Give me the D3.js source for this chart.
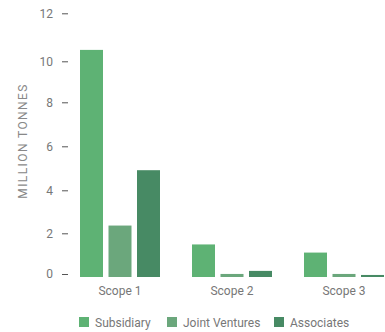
<!DOCTYPE html>
<html><head><meta charset="utf-8">
<script src="https://cdn.jsdelivr.net/npm/d3@7"></script>
<style>
html,body{margin:0;padding:0;background:#fff;}
svg{display:block;font-family:Roboto,"Open Sans",sans-serif;}
</style></head>
<body>
<svg id="chart" width="385" height="332"></svg>
<script>
const categories = ["Scope 1", "Scope 2", "Scope 3"];
const seriesNames = ["Subsidiary", "Joint Ventures", "Associates"];
const subsidiary = [10.6, 1.6, 1.2];
const jointVentures = [2.5, 0.15, 0.15];
const associates = [5.05, 0.3, 0.1];
const yTicks = [0, 2, 4, 6, 8, 10, 12];
const colors = ["#5eb274", "#6ba77c", "#478a64"];
const yTitle = "MILLION TONNES";

const seriesValues = [subsidiary, jointVentures, associates];
const svg = d3.select("#chart");

// y scale (piecewise to follow the reference's tick spacing)
const y = d3.scaleLinear()
  .domain(yTicks)
  .range([277, 236.3, 193.3, 149.3, 105.3, 64.3, 16.3]);

const x0 = d3.scaleBand().domain(categories).range([64, 400])
  .paddingInner(32/112).paddingOuter(16/112);
const x1 = d3.scaleBand().domain(seriesNames).range([0, x0.bandwidth()])
  .paddingInner(0.193).paddingOuter(0);

// y axis
const yAxis = svg.append("g").attr("transform", "translate(68,-3)")
  .call(d3.axisLeft(y).tickValues(yTicks).tickSize(6).tickPadding(9).tickFormat(d3.format("d")));
yAxis.select(".domain").remove();
yAxis.selectAll(".tick line").attr("stroke", "#555").attr("stroke-width", 1);
yAxis.selectAll(".tick text").attr("fill", "#777").style("font-size", "12px").style("font-family", "Roboto, sans-serif");

// y title
svg.append("text")
  .attr("transform", "translate(26.5,141) rotate(-90)")
  .attr("text-anchor", "middle")
  .attr("fill", "#888")
  .style("font-size", "12px")
  .style("letter-spacing", "1.4px")
  .text(yTitle);

// bars
const groups = svg.append("g").selectAll("g").data(categories).join("g")
  .attr("transform", d => `translate(${x0(d)},0)`);
groups.selectAll("rect")
  .data((c, i) => seriesNames.map((s, j) => ({s, j, v: seriesValues[j][i]})))
  .join("rect")
  .attr("x", d => x1(d.s))
  .attr("width", x1.bandwidth())
  .attr("y", d => y(d.v))
  .attr("height", d => y(0) - y(d.v))
  .attr("fill", d => colors[d.j]);

// x labels
svg.append("g").selectAll("text").data(categories).join("text")
  .attr("x", d => x0(d) + x0.bandwidth() / 2)
  .attr("y", 295)
  .attr("text-anchor", "middle")
  .attr("fill", "#777")
  .style("font-size", "12px")
  .text(d => d);

// legend
const legendX = [79, 167, 274];
const legend = svg.append("g").selectAll("g").data(seriesNames).join("g")
  .attr("transform", (d, i) => `translate(${legendX[i]},317)`);
legend.append("rect").attr("width", 10).attr("height", 10).attr("fill", (d, i) => colors[i]);
legend.append("text").attr("x", 16).attr("y", 9.5)
  .attr("fill", "#777").style("font-size", "12px").text(d => d);
</script>
</body></html>
